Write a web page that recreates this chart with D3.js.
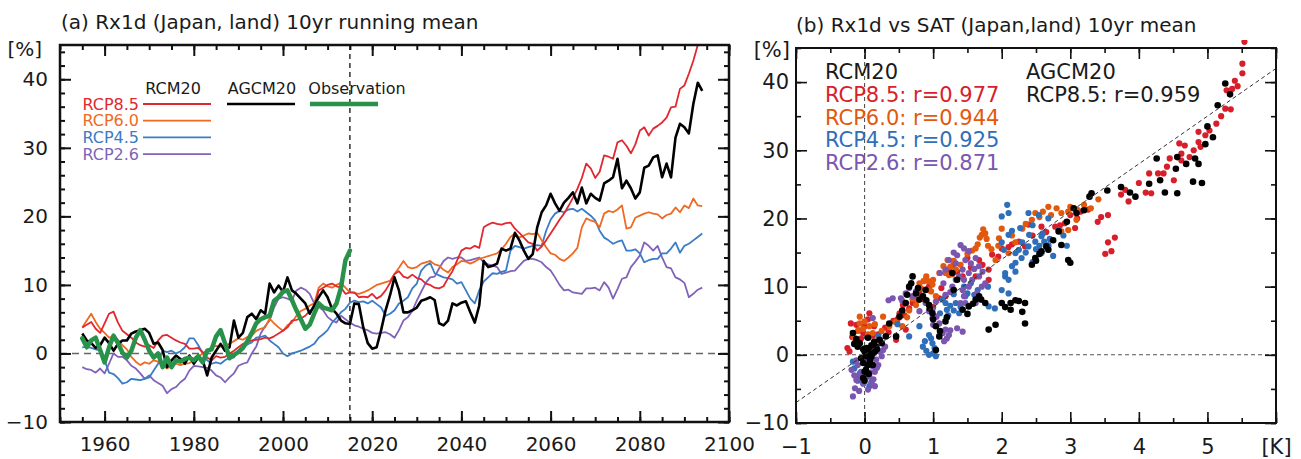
<!DOCTYPE html>
<html>
<head>
<meta charset="utf-8">
<script src="https://cdn.jsdelivr.net/npm/d3@7"></script>
<style>
  body { margin: 0; background: #fff; }
  svg text { font-family: "DejaVu Sans", sans-serif; fill: #1a1a1a; }
</style>
</head>
<body>
<div class="chart"></div>
<script>
// ---------- data: panel (a), 10yr running mean of Rx1d [%], years 1955-2094
const years = d3.range(1955, 2095);
const obsYears = d3.range(1955, 2016);

const rcp85 = [
  3.8, 4.2, 4.6, 3.6, 3.0, 4.4, 5.8, 6.1, 4.5, 3.3,
  2.8, 2.3, 1.6, 1.2, 1.0, 1.2, 0.8, 1.9, 2.6, 2.7,
  2.3, 1.9, 1.6, 1.4, 0.7, 0.7, 0.8, 0.2, -0.6, -1.0,
  -0.4, -0.6, -0.5, 0.0, 0.4, 0.9, 1.4, 1.6, 1.9, 2.0,
  2.1, 2.3, 2.2, 2.5, 2.9, 3.3, 3.8, 4.8, 4.9, 5.1,
  5.5, 6.2, 6.7, 9.2, 9.6, 10.0, 10.2, 9.8, 9.6, 8.7,
  8.9, 8.9, 8.2, 8.3, 8.2, 8.7, 8.0, 8.4, 9.2, 10.3,
  11.6, 12.0, 11.2, 11.0, 11.5, 11.0, 10.8, 10.2, 10.0, 9.6,
  9.5, 9.8, 11.0, 12.0, 13.5, 15.0, 15.4, 15.3, 15.7, 15.4,
  18.4, 18.8, 19.1, 18.9, 18.8, 19.0, 19.1, 18.2, 17.6, 16.9,
  16.2, 16.0, 15.0, 15.6, 16.5, 17.5, 18.5, 19.5, 20.4, 21.5,
  22.7, 24.0, 25.6, 27.7, 27.0, 25.6, 26.5, 28.9, 28.7, 28.4,
  30.8, 31.1, 30.3, 29.2, 30.5, 32.5, 33.0, 31.8, 32.8, 33.2,
  33.7, 34.4, 35.9, 36.0, 38.6, 39.1, 40.8, 42.7, 45.0, 48.0
];
const rcp60 = [
  3.8, 4.8, 5.8, 4.6, 3.6, 3.0, 2.3, 2.5, 2.0, 1.2,
  0.6, -0.5, -1.2, -1.7, -1.3, -1.5, -1.0, -1.2, -1.8, -2.2,
  -1.8, -1.5, -1.7, -1.5, -1.4, -1.0, -0.5, 0.0, 0.5, 0.9,
  1.1, 1.0, 1.2, 1.4, 1.8, 2.2, 2.0, 2.4, 2.6, 3.3,
  3.6, 3.8, 5.1, 4.4, 3.8, 3.3, 4.1, 4.5, 5.5, 6.2,
  6.5, 7.0, 7.3, 9.6, 10.2, 9.8, 9.6, 10.0, 10.3, 9.6,
  8.9, 8.8, 8.7, 8.9, 9.2, 9.6, 10.0, 10.2, 10.4, 10.6,
  11.6, 12.5, 13.5, 12.6, 12.4, 12.6, 13.1, 13.3, 13.5, 13.0,
  12.8, 12.2, 11.8, 12.6, 13.0, 13.5, 13.4, 13.1, 13.4, 13.8,
  14.0, 14.2, 14.4, 14.6, 15.2, 16.0, 17.0, 17.5, 16.9, 17.2,
  17.5, 17.4, 17.6, 16.5, 15.5, 14.6, 14.4, 13.8, 13.5, 14.0,
  14.6, 15.4, 18.4, 19.7, 19.4, 19.2, 18.4, 20.4, 20.8, 20.6,
  21.0, 21.6, 18.2, 18.4, 19.8, 20.1, 20.4, 20.6, 20.4, 20.3,
  19.7, 20.2, 20.4, 21.3, 20.6, 21.6, 21.2, 22.6, 21.6, 21.5
];
const rcp45 = [
  0.9, 1.0, 0.8, 0.6, 0.4, -1.0, -2.8, -3.0, -3.6, -4.4,
  -4.2, -3.7, -3.8, -3.9, -3.7, -3.5, -2.5, -1.5, 0.4, 0.2,
  0.4, 0.0, 0.3, 0.9, 2.2, 2.2, 1.2, 0.0, -1.0, -1.5,
  -1.3, -1.5, -1.0, -0.6, -0.6, 0.4, 1.1, 1.3, 1.6, 2.3,
  2.4, 2.6, 1.9, 1.4, 0.9, 0.0, -0.4, 0.0, 0.2, 0.4,
  0.7, 1.0, 1.4, 2.3, 2.8, 3.4, 4.5, 5.2, 6.0, 6.5,
  7.4, 7.7, 7.5, 7.6, 7.3, 7.7, 7.2, 6.7, 5.5, 5.8,
  6.3, 7.3, 7.7, 8.2, 9.5, 10.2, 12.1, 12.8, 13.2, 11.7,
  11.4, 11.1, 11.0, 10.8, 10.2, 10.4, 9.2, 8.0, 7.3, 9.2,
  10.5, 11.1, 11.7, 11.6, 11.9, 12.1, 15.0, 15.7, 15.5, 15.3,
  15.5, 15.7, 15.8, 15.7, 17.9, 19.5, 20.4, 20.8, 20.6, 21.0,
  21.1, 20.7, 21.1, 20.6, 20.1, 19.4, 17.9, 16.9, 16.5, 16.0,
  16.3, 16.5, 15.0, 15.0, 15.2, 14.6, 13.3, 13.6, 13.8, 13.8,
  14.6, 14.6, 15.3, 16.2, 14.7, 15.7, 16.0, 16.5, 17.0, 17.5
];
const rcp26 = [
  -2.0, -2.3, -2.4, -2.8, -2.2, -2.9, -1.5, 0.0, -0.5, -0.5,
  -1.0, -1.8, -2.2, -2.9, -3.7, -3.2, -3.9, -4.3, -4.7, -5.8,
  -5.2, -4.9, -4.2, -3.7, -2.5, -1.8, -1.9, -2.0, -2.1, -2.5,
  -3.2, -3.5, -4.2, -3.5, -2.9, -1.8, -1.5, -1.3, 0.0, 1.0,
  2.9, 4.0, 4.8, 6.7, 8.0, 8.2, 8.0, 7.7, 9.2, 9.6,
  9.3, 8.7, 7.3, 6.8, 6.3, 5.3, 4.8, 4.5, 5.5, 5.0,
  4.5, 4.1, 3.9, 3.6, 3.4, 3.0, 2.9, 3.0, 3.1, 2.8,
  2.3, 3.4, 4.8, 5.3, 6.2, 7.7, 9.0, 10.3, 11.1, 11.2,
  12.4, 13.5, 14.0, 13.8, 14.0, 14.0, 13.5, 13.6, 13.8, 14.0,
  13.3, 13.0, 12.8, 12.6, 11.6, 11.8, 12.0, 12.1, 12.8, 13.5,
  13.8, 13.8, 13.6, 13.3, 12.6, 12.1, 11.1, 10.0, 9.2, 9.3,
  8.9, 8.8, 8.7, 9.5, 9.5, 9.6, 9.2, 10.4, 9.6, 8.0,
  9.4, 10.9, 11.1, 12.6, 13.4, 14.3, 16.2, 15.7, 15.0, 15.7,
  14.0, 12.6, 12.4, 11.1, 10.8, 10.3, 8.2, 8.7, 9.3, 9.6
];
const agcm = [
  2.9, 1.9, 1.5, 0.8, 1.2, 2.3, 1.5, 0.4, 1.4, 1.9,
  1.9, 2.9, 3.2, 3.4, 3.6, 3.0, 1.4, 1.6, 0.5, -2.0,
  -1.0, -0.3, -0.8, -1.5, -0.3, -1.5, -0.6, -1.0, -3.2, -0.6,
  0.4, 1.4, 0.4, 0.9, 4.8, 2.3, 3.0, 5.3, 5.8, 5.0,
  6.3, 5.8, 10.2, 8.9, 9.9, 9.0, 11.1, 9.2, 8.7, 8.0,
  7.3, 5.8, 7.0, 8.2, 9.2, 8.2, 6.5, 5.8, 4.8, 4.4,
  4.3, 7.3, 7.2, 3.8, 1.5, 0.7, 0.9, 3.4, 6.3, 8.5,
  11.1, 9.2, 6.0, 6.0, 6.3, 6.7, 7.7, 7.9, 8.2, 7.8,
  4.4, 4.1, 4.8, 7.3, 7.0, 7.4, 7.6, 6.0, 4.5, 7.0,
  13.5, 12.6, 12.8, 13.1, 15.3, 15.0, 15.3, 17.6, 16.5, 15.0,
  13.8, 14.5, 18.4, 20.6, 21.6, 23.3, 21.9, 20.8, 22.0, 22.7,
  23.5, 21.9, 24.2, 21.9, 23.3, 22.7, 22.3, 24.8, 25.2, 25.7,
  28.4, 24.1, 25.2, 24.1, 22.6, 23.5, 27.1, 27.4, 28.6, 28.9,
  25.7, 27.7, 25.7, 31.5, 33.5, 33.0, 32.1, 36.4, 39.5, 38.3
];
const obs = [
  2.2, 0.9, 1.9, 2.3, 0.5, -1.3, 0.9, 2.6, 1.5, 0.1,
  -0.6, 0.4, 2.3, 3.4, 2.0, 0.4, -0.6, 0.0, -2.0, -0.6,
  -2.0, -1.0, -1.2, -0.8, -0.6, -1.0, -0.4, -1.3, 0.4, 0.6,
  2.5, 3.4, 1.5, -0.7, -0.2, 0.2, 0.8, 1.8, 3.0, 4.4,
  5.0, 5.3, 5.5, 7.7, 8.2, 9.0, 9.2, 7.8, 6.3, 5.0,
  3.6, 4.2, 5.8, 7.3, 6.7, 6.5, 6.3, 7.3, 9.6, 13.6, 15.0
];

// ---------- data: panel (b), [SAT K, Rx1d %] 10yr means
const scRcp85 = [
  [-0.22,0.5],[-0.14,1.7],[-0.12,4.4],[-0.2,4.6],[-0.02,3.2],[0.07,6.1],[0.14,4.2],[-0.05,2.4],[0.1,1.0],[0.2,3.0],[0.05,5.2],
  [-0.25,1.0],[-0.18,2.6],[-0.08,3.6],[0.0,4.2],[0.12,2.8],[0.3,4.0],
  [0.46,2.2],[0.51,6.1],[0.56,7.3],[0.65,6.8],[0.6,3.7],[0.35,3.3],[0.42,5.0],[0.8,9.0],[0.94,10.0],[0.72,8.3],[1.09,8.3],[1.18,8.6],[1.0,7.0],
  [0.48,5.2],[0.58,5.8],[0.7,7.6],[0.85,8.2],[0.9,9.6],[1.12,9.8],
  [1.23,12.5],[1.28,13.0],[1.43,11.5],[1.62,11.5],[1.67,13.9],[1.81,12.5],[1.81,11.0],[1.86,14.7],[1.5,14.2],[2.0,15.6],[2.1,15.8],
  [1.35,12.2],[1.55,12.8],[1.72,13.2],[1.95,14.4],[2.15,16.2],[2.45,17.5],[2.65,18.0],[2.85,19.0],
  [2.25,16.6],[2.34,15.9],[2.39,19.1],[2.58,18.8],[2.78,18.8],[2.92,19.3],[3.07,18.6],[3.0,20.5],[3.15,21.0],[3.26,21.3],[3.4,19.5],
  [3.1,20.0],[3.45,20.2],[3.8,24.2],[4.0,25.2],[4.45,28.8],[4.8,30.0],[5.2,35.0],[5.4,40.2],
  [3.51,14.8],[3.55,16.5],[3.65,17.2],[3.55,20.5],[3.6,15.2],[3.74,23.5],[3.85,22.5],[4.15,26.6],[4.28,26.6],[4.36,26.6],[4.41,27.6],
  [4.51,25.6],[4.1,23.8],[4.18,23.7],[4.62,28.5],[4.74,29.0],[4.62,29.5],[4.59,31.0],[4.67,30.7],[4.87,31.2],[4.9,30.5],[4.87,32.7],
  [4.97,32.2],[5.03,32.9],[5.13,33.9],[5.26,36.1],[5.34,36.0],[5.28,38.8],[5.36,39.0],[5.44,39.4],[5.51,41.3],[5.51,42.7],[5.54,45.9]
];
const scRcp60 = [
  [-0.07,4.6],[-0.07,5.6],[-0.02,3.8],[0.07,4.2],[0.12,3.2],[-0.15,2.5],[0.27,5.6],[0.36,4.2],[0.2,2.2],[0.55,4.2],[0.62,5.5],
  [0.0,4.9],[-0.1,3.5],[0.05,3.0],[0.15,4.5],[0.25,3.5],[0.45,4.8],[0.5,5.5],[0.65,6.5],
  [0.75,7.3],[0.8,10.5],[0.89,11.0],[0.99,10.3],[0.94,9.5],[0.85,8.6],[0.7,8.2],[1.04,8.6],[0.9,11.5],[1.0,11.0],
  [0.78,8.0],[0.82,9.8],[0.86,10.8],[0.93,10.8],[0.97,9.3],
  [1.21,13.9],[1.23,11.7],[1.33,12.5],[1.09,12.0],[1.25,12.9],[1.62,15.6],[1.57,15.3],[1.71,17.6],[1.76,17.8],[1.68,17.2],
  [1.15,13.0],[1.18,12.0],[1.28,11.8],[1.3,13.8],[1.65,16.2],[1.73,18.4],[1.78,17.0],[1.8,16.0],[1.95,16.0],
  [1.91,13.9],[1.96,17.1],[2.1,14.9],[1.85,15.5],[2.44,19.8],[2.49,20.8],[2.68,21.7],[2.72,20.5],[2.87,20.8],[2.97,21.0],
  [2.0,18.5],[2.15,17.5],[2.35,19.2],[2.55,20.2],[2.6,21.0],[2.8,21.5],[3.0,21.7],[3.1,21.3],
  [3.09,19.8],[2.87,18.1],[2.97,18.3],[3.2,22.0],[3.41,22.8],[3.3,21.5],[2.3,18.5],[2.2,16.5],[1.5,14.8],[1.4,13.2]
];
const scRcp45 = [
  [-0.12,-3.2],[-0.02,-4.2],[0.07,-4.6],[-0.17,-1.0],[-0.1,1.7],[-0.15,-2.0],[0.05,-3.0],[0.2,2.8],
  [-0.05,-2.5],[0.1,-4.0],[-0.1,-3.8],[0.0,1.0],
  [0.85,1.2],[0.94,0.0],[1.04,-0.2],[0.99,1.7],[0.94,2.9],[0.88,2.0],[0.65,2.7],[0.8,4.2],[0.48,4.5],
  [0.9,0.6],[1.0,0.2],[0.97,2.4],[1.02,1.0],
  [1.18,7.6],[1.25,7.2],[1.38,6.1],[1.33,7.6],[1.2,6.6],[1.1,6.1],[1.47,8.6],[1.14,8.1],[1.3,8.9],[1.81,7.1],
  [1.3,6.5],[1.4,7.0],[1.22,5.8],[1.5,9.0],[1.45,10.0],[1.6,8.8],[1.9,6.8],[2.1,9.0],
  [2.0,9.5],[2.1,11.0],[2.2,12.2],[2.05,12.0],[2.15,13.0],[2.03,15.4],[2.25,15.4],[2.39,15.9],[2.49,16.6],[2.58,17.4],
  [2.05,11.5],[2.2,13.5],[2.35,15.0],[2.5,15.5],[2.55,16.0],[2.6,17.8],[2.7,17.0],[2.4,17.6],[2.3,16.5],[2.15,18.2],[2.0,16.5],
  [2.62,16.6],[2.68,16.1],[2.1,17.6],[2.27,18.6],[2.39,20.8],[2.1,20.8],[2.0,20.3],[2.08,22.0],[2.54,20.5],[2.68,20.0],
  [2.45,19.0],[2.2,14.9],[2.29,14.2],[2.45,13.6],[2.58,14.9],[2.68,15.9],[2.75,14.5],[2.83,18.3],[2.9,17.5],[2.95,16.0],
  [1.8,10.0],[1.65,9.5],[1.55,10.5]
];
const scRcp26 = [
  [-0.17,-6.1],[-0.14,-4.9],[-0.12,-3.7],[-0.07,-2.7],[-0.19,-2.2],[-0.1,-1.5],[0.02,-2.2],[0.07,-3.2],[0.12,-1.7],
  [0.17,-0.7],[0.22,0.5],[0.27,0.7],[-0.02,-4.2],[0.1,-4.2],[0.05,-5.1],[0.15,-2.5],[0.2,-1.5],[0.0,-1.0],
  [-0.15,-3.0],[-0.05,-3.5],[0.08,-2.6],[0.13,-3.6],[0.18,-1.9],[0.25,-0.2],[-0.12,-0.8],[0.03,-0.5],
  [0.1,0.3],[0.3,1.2],[0.15,-4.6],[-0.08,-5.3],
  [0.12,5.4],[0.41,8.3],[0.53,8.3],[0.6,9.0],[0.65,9.8],[0.8,6.4],[0.89,7.6],[0.94,6.4],[0.99,5.4],[1.09,4.6],
  [1.14,3.2],[1.18,3.7],[1.23,2.9],[1.16,2.0],[1.43,3.4],[0.99,6.6],[1.04,7.8],[1.18,8.8],
  [0.7,8.6],[0.75,9.3],[0.55,7.9],[0.35,8.0],[1.0,4.4],[1.05,5.6],[1.2,2.4],[1.25,3.6],[1.35,3.9],
  [1.28,10.0],[1.33,11.0],[1.38,11.5],[1.43,12.5],[1.47,13.9],[1.4,16.1],[1.52,15.2],[1.62,14.2],[1.67,13.0],
  [1.45,11.0],[1.55,13.4],[1.6,12.6],[1.72,12.2],[1.35,14.6],[1.45,15.6],[1.25,9.2],[1.15,10.5],
  [1.52,12.0],[1.57,11.0],[1.43,9.5],[1.45,8.6],[1.4,7.6],[1.67,11.5],[1.71,10.0],[1.76,10.5],[1.64,9.0],
  [1.33,13.4],[1.23,13.9],[1.18,12.5],[1.47,7.6],[1.62,7.6],[1.52,10.0],[1.3,15.0],[1.1,12.0]
];
const scAgcm = [
  [-0.17,3.2],[-0.12,2.3],[-0.07,1.7],[-0.02,0.8],[0.02,-0.2],[0.07,0.7],[0.12,0.2],[-0.02,-1.2],[0.02,-2.2],
  [-0.02,-3.4],[0.0,-3.8],[0.05,-1.5],[0.1,1.4],[0.17,1.2],[0.22,2.2],[0.31,2.7],[0.36,4.6],[0.15,0.5],[0.08,-0.8],[-0.1,1.2],
  [0.05,0.2],[0.1,-0.3],[0.0,0.5],[0.03,1.0],[0.12,-1.5],[0.18,0.8],[-0.05,-0.5],[0.06,-2.8],[0.0,-2.5],
  [0.14,1.9],[-0.15,1.6],[0.25,1.7],[0.05,2.5],
  [0.51,5.6],[0.6,7.6],[0.65,10.0],[0.7,11.5],[0.75,9.0],[0.85,8.6],[0.94,7.3],[0.99,6.1],[1.04,4.2],[1.09,2.7],
  [1.04,0.7],[0.89,9.5],[0.8,8.1],[0.46,2.7],[1.18,4.9],[1.28,12.0],
  [0.55,6.5],[0.62,8.8],[0.68,10.5],[0.78,9.8],[0.9,8.0],[0.95,6.8],[1.0,5.2],[1.1,3.5],[1.2,5.5],[1.3,9.5],[1.35,11.0],
  [1.43,6.6],[1.52,7.1],[1.62,8.1],[1.67,8.6],[1.76,7.6],[1.81,3.7],[1.91,4.4],[2.0,7.6],[2.13,7.6],[2.13,6.6],
  [1.5,6.0],[1.58,7.5],[1.7,8.1],[2.05,7.0],[2.25,7.9],[2.3,6.3],
  [2.34,7.6],[2.34,4.6],[2.2,8.0],[2.44,13.2],[2.49,14.2],[2.58,15.2],[2.68,15.4],[2.87,16.1],[2.97,13.9],[3.0,13.5],
  [2.5,13.8],[2.55,14.8],[2.65,15.9],[2.75,16.8],
  [3.09,20.8],[2.83,18.1],[3.2,21.2],[3.05,21.5],[2.95,19.5],
  [3.28,23.2],[3.31,23.7],[3.54,24.1],[3.74,24.6],[3.87,23.8],[3.95,23.2],[4.15,25.1],[4.26,28.8],[4.31,25.6],
  [4.38,23.8],[4.56,23.7],[4.54,27.3],[4.56,29.0],[4.69,28.0],[4.82,28.8],[4.79,25.4],[4.92,25.2],[4.87,28.0],
  [4.97,30.9],[5.08,31.9],[5.0,33.5],[5.15,36.6],[5.33,38.2],[5.26,39.8]
];
const regSlope = 7.0;   // dashed fit line, %/K

const rcmLabels = ["RCP8.5", "RCP6.0", "RCP4.5", "RCP2.6"];
const rcmR = ["0.977", "0.944", "0.925", "0.871"];
const agcmR = "0.959";

const colA = { r85: "#e0282e", r60: "#ee6a22", r45: "#3a7cc6", r26: "#8063b8", agcm: "#000", obs: "#28914a" };
const colB = { r85: "#d81e2a", r60: "#e2580c", r45: "#2f6fba", r26: "#7a56b0", agcm: "#000" };

// ---------- svg
const svg = d3.select(".chart").append("svg")
  .attr("width", 1301)
  .attr("height", 459);

// inward ticks on all four sides, frame drawn after
function frame(x, y, box, o) {
  const g = svg.append("g");
  const add = (axis, tr, vals, size, fmt, pad) => {
    g.append("g")
      .attr("transform", tr)
      .call(axis.tickValues(vals).tickSize(-size).tickFormat(fmt).tickPadding(pad))
      .call(s => s.select(".domain").remove())
      .call(s => s.selectAll("line").attr("stroke", "#111").attr("stroke-width", o.tw))
      .call(s => s.selectAll("text").attr("font-size", o.fs).attr("fill", "#1a1a1a"));
  };
  const none = () => "";
  add(d3.axisBottom(x), `translate(0,${box.bottom})`, o.xMinor, 5, none, 0);
  add(d3.axisBottom(x), `translate(0,${box.bottom})`, o.xMajor, 11, o.xFmt, o.xPad);
  add(d3.axisTop(x), `translate(0,${box.top})`, o.xMinor, 5, none, 0);
  add(d3.axisTop(x), `translate(0,${box.top})`, o.xMajor, 11, none, 0);
  add(d3.axisLeft(y), `translate(${box.left},0)`, o.yMinor, 5, none, 0);
  add(d3.axisLeft(y), `translate(${box.left},0)`, o.yMajor, 11, o.yFmt, o.yPad);
  add(d3.axisRight(y), `translate(${box.right},0)`, o.yMinor, 5, none, 0);
  add(d3.axisRight(y), `translate(${box.right},0)`, o.yMajor, 11, none, 0);
  g.append("rect")
    .attr("x", box.left).attr("y", box.top)
    .attr("width", box.right - box.left).attr("height", box.bottom - box.top)
    .attr("fill", "none").attr("stroke", "#111").attr("stroke-width", o.fw);
}

// ================= panel (a)
const A = { left: 60, right: 729, top: 45, bottom: 422 };
const xA = d3.scaleLinear().domain([1950, 2100]).range([A.left, A.right]);
const yA = d3.scaleLinear().domain([-10, 45]).range([A.bottom, A.top]);

svg.append("defs").append("clipPath").attr("id", "clipA")
  .append("rect").attr("x", A.left).attr("y", A.top)
  .attr("width", A.right - A.left).attr("height", A.bottom - A.top);

svg.append("line")
  .attr("x1", A.left).attr("x2", A.right).attr("y1", yA(0)).attr("y2", yA(0))
  .attr("stroke", "#666").attr("stroke-width", 1.5).attr("stroke-dasharray", "7,5");
svg.append("line")
  .attr("x1", xA(2015)).attr("x2", xA(2015)).attr("y1", A.top).attr("y2", A.bottom)
  .attr("stroke", "#111").attr("stroke-width", 1.3).attr("stroke-dasharray", "5,4");

const lineA = d3.line().x(d => xA(d[0])).y(d => yA(d[1])).curve(d3.curveLinear);
const seriesA = [
  { v: rcp26, c: colA.r26, w: 1.8 },
  { v: rcp45, c: colA.r45, w: 1.8 },
  { v: rcp60, c: colA.r60, w: 1.8 },
  { v: rcp85, c: colA.r85, w: 1.8 },
  { v: agcm, c: colA.agcm, w: 2.6 }
];
const gA = svg.append("g").attr("clip-path", "url(#clipA)");
seriesA.forEach(s => {
  gA.append("path")
    .datum(years.map((yr, i) => [yr, s.v[i]]))
    .attr("d", lineA)
    .attr("fill", "none").attr("stroke", s.c).attr("stroke-width", s.w)
    .attr("stroke-linejoin", "round");
});
gA.append("path")
  .datum(obsYears.map((yr, i) => [yr, obs[i]]))
  .attr("d", lineA)
  .attr("fill", "none").attr("stroke", colA.obs).attr("stroke-width", 4.5)
  .attr("stroke-linejoin", "round").attr("stroke-linecap", "round");

frame(xA, yA, A, {
  xMajor: d3.range(1960, 2101, 20), xMinor: d3.range(1950, 2101, 5),
  yMajor: d3.range(-10, 41, 10), yMinor: d3.range(-10, 46, 2),
  xFmt: d3.format("d"), yFmt: d3.format("d"),
  xPad: 15, yPad: 12, fs: 20, tw: 2, fw: 2.5
});
svg.append("text").attr("x", 42).attr("y", 49).attr("dy", "0.35em")
  .attr("text-anchor", "end").attr("font-size", 20).text("[%]");
svg.append("text").attr("x", 61).attr("y", 29).attr("font-size", 20)
  .text("(a) Rx1d (Japan, land) 10yr running mean");

// legend (a)
const legA = svg.append("g");
legA.append("text").attr("x", 173).attr("y", 88).attr("dy", "0.35em")
  .attr("text-anchor", "middle").attr("font-size", 16).text("RCM20");
legA.append("text").attr("x", 262).attr("y", 88).attr("dy", "0.35em")
  .attr("text-anchor", "middle").attr("font-size", 16).text("AGCM20");
legA.append("text").attr("x", 357).attr("y", 88).attr("dy", "0.35em")
  .attr("text-anchor", "middle").attr("font-size", 16).text("Observation");
[colA.r85, colA.r60, colA.r45, colA.r26].forEach((c, i) => {
  const yy = 104 + i * 16.7;
  legA.append("text").attr("x", 139).attr("y", yy).attr("dy", "0.35em")
    .attr("text-anchor", "end").attr("font-size", 16).style("fill", c).text(rcmLabels[i]);
  legA.append("line").attr("x1", 143).attr("x2", 211).attr("y1", yy).attr("y2", yy)
    .attr("stroke", c).attr("stroke-width", 1.8);
});
legA.append("line").attr("x1", 227).attr("x2", 295).attr("y1", 104).attr("y2", 104)
  .attr("stroke", colA.agcm).attr("stroke-width", 2.6);
legA.append("line").attr("x1", 310).attr("x2", 378).attr("y1", 104).attr("y2", 104)
  .attr("stroke", colA.obs).attr("stroke-width", 4.5);

// ================= panel (b)
const B = { left: 796, right: 1276, top: 48, bottom: 423 };
const xB = d3.scaleLinear().domain([-1, 6]).range([B.left, B.right]);
const yB = d3.scaleLinear().domain([-10, 45]).range([B.bottom, B.top]);

svg.append("defs").append("clipPath").attr("id", "clipB")
  .append("rect").attr("x", B.left).attr("y", B.top - 8)
  .attr("width", B.right - B.left).attr("height", B.bottom - B.top + 8);

svg.append("line")
  .attr("x1", B.left).attr("x2", B.right).attr("y1", yB(0)).attr("y2", yB(0))
  .attr("stroke", "#555").attr("stroke-width", 1.1).attr("stroke-dasharray", "4,3");
svg.append("line")
  .attr("x1", xB(0)).attr("x2", xB(0)).attr("y1", B.top).attr("y2", B.bottom)
  .attr("stroke", "#555").attr("stroke-width", 1.1).attr("stroke-dasharray", "4,3");

const gB = svg.append("g").attr("clip-path", "url(#clipB)");
const scatter = [
  { d: scRcp85, c: colB.r85, r: 3.1 },
  { d: scRcp60, c: colB.r60, r: 3.1 },
  { d: scRcp45, c: colB.r45, r: 3.1 },
  { d: scRcp26, c: colB.r26, r: 3.1 },
  { d: scAgcm, c: colB.agcm, r: 3.3 }
];
scatter.forEach(s => {
  gB.append("g").selectAll("circle")
    .data(s.d)
    .enter()
    .append("circle")
    .attr("cx", d => xB(d[0]))
    .attr("cy", d => yB(d[1]))
    .attr("r", s.r)
    .attr("fill", s.c);
});
gB.append("line")
  .attr("x1", xB(-1)).attr("y1", yB(-regSlope))
  .attr("x2", xB(6)).attr("y2", yB(6 * regSlope))
  .attr("stroke", "#333").attr("stroke-width", 1).attr("stroke-dasharray", "4,3");

frame(xB, yB, B, {
  xMajor: d3.range(-1, 7, 1), xMinor: d3.range(-1, 6.01, 0.5),
  yMajor: d3.range(-10, 41, 10), yMinor: d3.range(-10, 46, 5),
  xFmt: d => d === 6 ? "[K]" : d3.format("d")(d), yFmt: d3.format("d"),
  xPad: 16, yPad: 7, fs: 21, tw: 1.6, fw: 2
});
svg.append("text").attr("x", 790).attr("y", 50).attr("dy", "0.35em")
  .attr("text-anchor", "end").attr("font-size", 21).text("[%]");
svg.append("text").attr("x", 796).attr("y", 32).attr("font-size", 20)
  .text("(b) Rx1d vs SAT (Japan,land) 10yr mean");

// legend (b)
const legB = svg.append("g").attr("font-size", 21);
legB.append("text").attr("x", 825).attr("y", 72).attr("dy", "0.35em").text("RCM20");
[colB.r85, colB.r60, colB.r45, colB.r26].forEach((c, i) => {
  legB.append("text").attr("x", 825).attr("y", 95 + i * 22.5).attr("dy", "0.35em")
    .style("fill", c).text(`${rcmLabels[i]}: r=${rcmR[i]}`);
});
legB.append("text").attr("x", 1026).attr("y", 72).attr("dy", "0.35em").text("AGCM20");
legB.append("text").attr("x", 1026).attr("y", 95).attr("dy", "0.35em").text(`RCP8.5: r=${agcmR}`);
</script>
</body>
</html>
